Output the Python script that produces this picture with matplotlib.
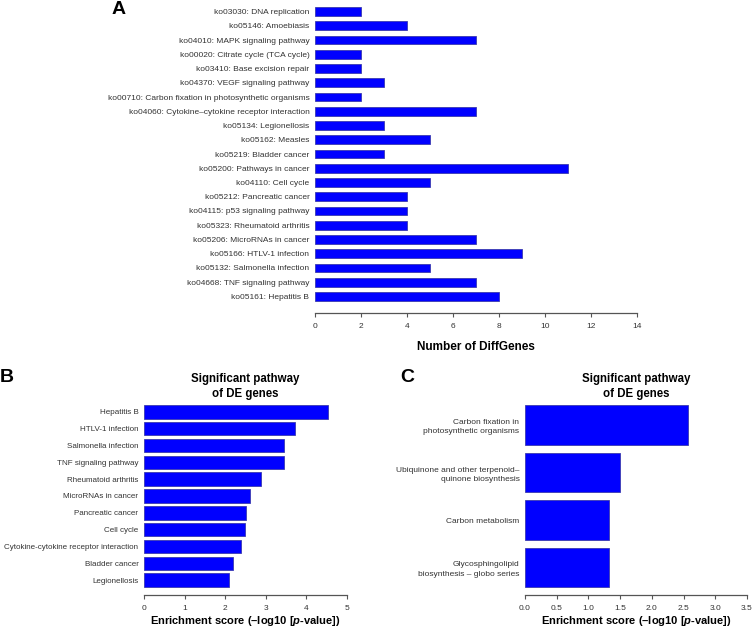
import matplotlib.pyplot as plt
import numpy as np

plt.rcParams["font.family"] = ["Liberation Sans", "DejaVu Sans"]
plt.rcParams["mathtext.fontset"] = "custom"
plt.rcParams["mathtext.rm"] = "Liberation Sans"
plt.rcParams["mathtext.bf"] = "Liberation Sans:bold"
plt.rcParams["mathtext.bfit"] = "Liberation Sans:bold:italic"

W, H = 752, 629

# panel A: number of DE genes per KEGG pathway (top to bottom)
a_labels = [
    "ko03030: DNA replication",
    "ko05146: Amoebiasis",
    "ko04010: MAPK signaling pathway",
    "ko00020: Citrate cycle (TCA cycle)",
    "ko03410: Base excision repair",
    "ko04370: VEGF signaling pathway",
    "ko00710: Carbon fixation in photosynthetic organisms",
    "ko04060: Cytokine\u2013cytokine receptor interaction",
    "ko05134: Legionellosis",
    "ko05162: Measles",
    "ko05219: Bladder cancer",
    "ko05200: Pathways in cancer",
    "ko04110: Cell cycle",
    "ko05212: Pancreatic cancer",
    "ko04115: p53 signaling pathway",
    "ko05323: Rheumatoid arthritis",
    "ko05206: MicroRNAs in cancer",
    "ko05166: HTLV-1 infection",
    "ko05132: Salmonella infection",
    "ko04668: TNF signaling pathway",
    "ko05161: Hepatitis B",
]
a_counts = [2, 4, 7, 2, 2, 3, 2, 7, 3, 5, 3, 11, 5, 4, 4, 4, 7, 9, 5, 7, 8]
a_ticks = [0, 2, 4, 6, 8, 10, 12, 14]

# panel B: enrichment score
b_labels = [
    "Hepatitis B",
    "HTLV-1 infection",
    "Salmonella infection",
    "TNF signaling pathway",
    "Rheumatoid arthritis",
    "MicroRNAs in cancer",
    "Pancreatic cancer",
    "Cell cycle",
    "Cytokine-cytokine receptor interaction",
    "Bladder cancer",
    "Legionellosis",
]
b_scores = [4.53, 3.71, 3.46, 3.46, 2.87, 2.60, 2.51, 2.49, 2.39, 2.20, 2.10]
b_ticks = [0, 1, 2, 3, 4, 5]

# panel C: enrichment score
c_labels = [
    "Carbon fixation in\nphotosynthetic organisms",
    "Ubiquinone and other terpenoid\u2013\nquinone biosynthesis",
    "Carbon metabolism",
    "Glycosphingolipid\nbiosynthesis \u2013 globo series",
]
c_scores = [2.57, 1.49, 1.33, 1.32]
c_ticks = [0.0, 0.5, 1.0, 1.5, 2.0, 2.5, 3.0, 3.5]

BAR = "#0000ff"
EDGE = "#3a3ab0"
AXC = "#555555"
TXT = "#333333"
XLAB = "Enrichment score (\u2013log10 [$\\mathbfit{p}$-value])"
TITLE = "Significant pathway\nof DE genes"


def px_axes(fig, x0, x1, y_top, y_bot):
    return fig.add_axes([x0 / W, 1 - y_bot / H, (x1 - x0) / W, (y_bot - y_top) / H])


def style(ax, ticks, fmt, lab_size):
    for s in ["top", "right", "left"]:
        ax.spines[s].set_visible(False)
    ax.spines["bottom"].set_color(AXC)
    ax.spines["bottom"].set_linewidth(0.9)
    ax.spines["bottom"].set_bounds(ticks[0], ticks[-1])
    ax.set_xticks(ticks)
    ax.set_xticklabels([fmt.format(t) for t in ticks])
    ax.set_xlim(ticks[0], ticks[-1])
    ax.tick_params(axis="x", direction="out", length=3, width=0.8, color=AXC,
                   labelsize=6, labelcolor=TXT, pad=4)
    ax.tick_params(axis="y", length=0, labelsize=lab_size, labelcolor=TXT, pad=4)


fig = plt.figure(figsize=(W / 100, H / 100), dpi=100)

# A
ax = px_axes(fig, 315, 637, 3, 313)
ya = np.arange(len(a_labels))
ax.barh(ya, a_counts, height=0.62, color=BAR, edgecolor=EDGE, linewidth=0.6)
ax.set_yticks(ya)
ax.set_yticklabels(a_labels)
ax.set_ylim(len(a_labels) - 1 + 1.16, -0.6)
style(ax, a_ticks, "{:d}", 6.0)
ax.set_xlabel("Number of DiffGenes", fontsize=8.5, fontweight="bold", labelpad=8)
fig.text(112 / W, 1 - 10 / H, "A", fontsize=14, fontweight="bold", va="center")

# B
ax = px_axes(fig, 144, 347, 400, 595)
yb = np.arange(len(b_labels))
ax.barh(yb, b_scores, height=0.8, color=BAR, edgecolor=EDGE, linewidth=0.6)
ax.set_yticks(yb)
ax.set_yticklabels(b_labels)
ax.set_ylim(len(b_labels) - 1 + 0.89, -0.71)
style(ax, b_ticks, "{:d}", 5.8)
ax.set_xlabel(XLAB, fontsize=8.0, fontweight="bold", labelpad=2)
ax.set_title(TITLE, fontsize=8.3, fontweight="bold", pad=2, linespacing=1.3)
fig.text(0 / W, 1 - 377 / H, "B", fontsize=14, fontweight="bold", va="center")

# C
ax = px_axes(fig, 525, 747, 400, 595)
yc = np.arange(len(c_labels))
ax.barh(yc, c_scores, height=0.83, color=BAR, edgecolor=EDGE, linewidth=0.6)
ax.set_yticks(yc)
ax.set_yticklabels(c_labels, linespacing=1.45)
ax.set_ylim(len(c_labels) - 1 + 0.58, -0.53)
style(ax, c_ticks, "{:.1f}", 6.0)
ax.set_xlabel(XLAB, fontsize=8.0, fontweight="bold", labelpad=2)
ax.set_title(TITLE, fontsize=8.3, fontweight="bold", pad=2, linespacing=1.3)
fig.text(400 / W, 1 - 377 / H, "C", fontsize=14, fontweight="bold", va="center")

fig.savefig("out.png", dpi=100)
